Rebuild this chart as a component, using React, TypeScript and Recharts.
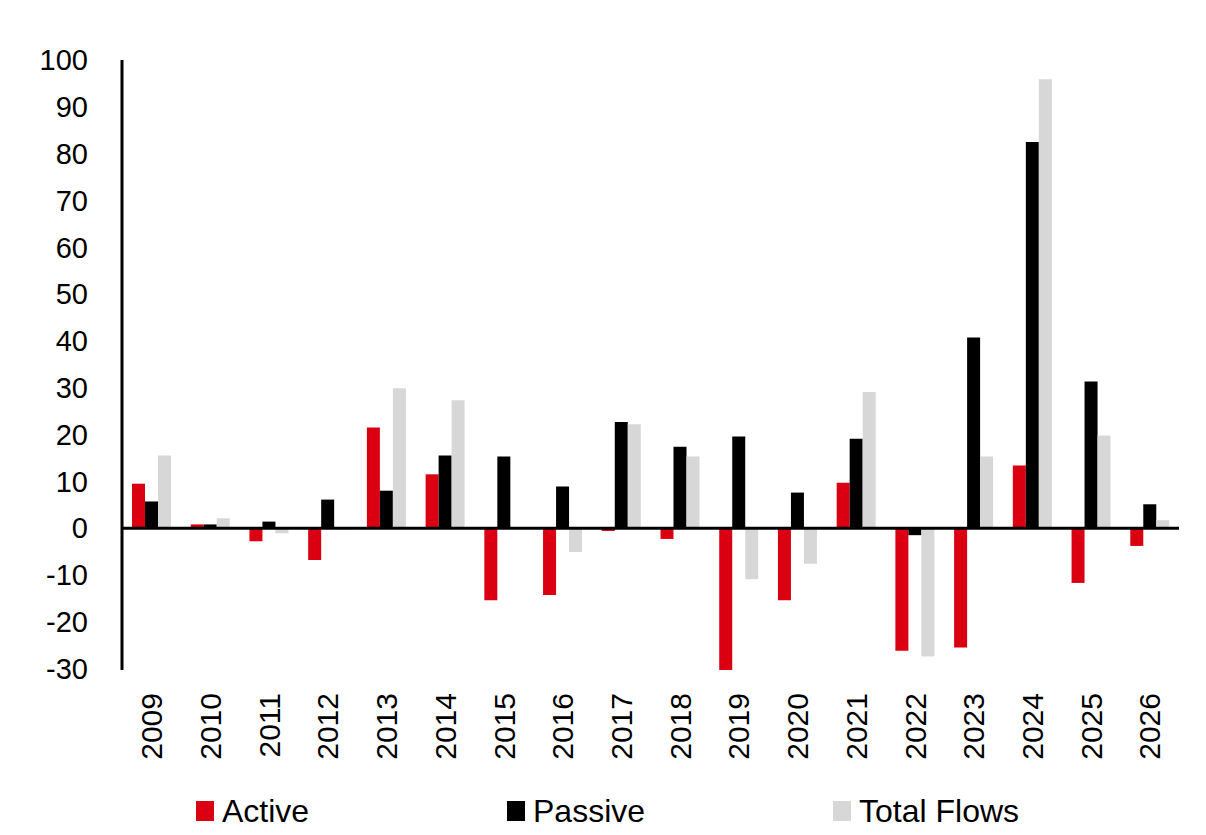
import React from "react";
import { BarChart, Bar, XAxis, YAxis, ReferenceLine } from "recharts";

const years = [
  "2009", "2010", "2011", "2012", "2013", "2014", "2015", "2016", "2017",
  "2018", "2019", "2020", "2021", "2022", "2023", "2024", "2025", "2026",
];
const active = [9.5, 0.8, -2.8, -6.8, 21.5, 11.5, -15.4, -14.3, -0.6, -2.3, -30.3, -15.4, 9.7, -26.2, -25.5, 13.4, -11.7, -3.8];
const passive = [5.7, 0.8, 1.4, 6.1, 8.0, 15.5, 15.3, 8.9, 22.7, 17.4, 19.6, 7.6, 19.1, -1.5, 40.7, 82.5, 31.3, 5.1];
const totalFlows = [15.5, 2.1, -1.1, -0.2, 29.9, 27.3, 0, -5.1, 22.2, 15.3, -10.9, -7.6, 29.1, -27.4, 15.3, 95.9, 19.8, 1.7];
const yTicks = [-30, -20, -10, 0, 10, 20, 30, 40, 50, 60, 70, 80, 90, 100];

const RED = "#DB0011";
const BLACK = "#000000";
const GREY = "#D7D7D7";
const FONT = "'Liberation Sans', Arial, sans-serif";

const data = years.map((year, i) => ({
  year,
  active: active[i],
  passive: passive[i],
  total: totalFlows[i],
}));

const YearTick = (props: any) => {
  const { x, y, payload } = props;
  return (
    <g transform={`translate(${x},${y + 23})`}>
      <text
        transform="rotate(-90)"
        x={0}
        y={0}
        dy="0.36em"
        textAnchor="end"
        fontSize={30}
        fontFamily={FONT}
        fill="#000"
      >
        {payload.value}
      </text>
    </g>
  );
};

const legendItems = [
  { label: "Active", color: RED, left: 196 },
  { label: "Passive", color: BLACK, left: 507 },
  { label: "Total Flows", color: GREY, left: 833 },
];

export default function App() {
  return (
    <div
      style={{
        position: "absolute",
        left: 0,
        top: 0,
        width: 1206,
        height: 835,
        background: "#fff",
        fontFamily: FONT,
      }}
    >
      <BarChart
        width={1206}
        height={835}
        data={data}
        margin={{ top: 60, right: 27, left: 0, bottom: 65 }}
        barGap={0}
        barSize={13}
      >
        <XAxis
          dataKey="year"
          axisLine={false}
          tickLine={false}
          tickSize={0}
          tickMargin={0}
          height={100}
          interval={0}
          tick={<YearTick />}
        />
        <YAxis
          width={122}
          domain={[-30, 100]}
          ticks={yTicks}
          interval={0}
          axisLine={{ stroke: "#000", strokeWidth: 3 }}
          tickLine={false}
          tickSize={6}
          tickMargin={28}
          tick={{ fontSize: 29, fill: "#000", fontFamily: FONT }}
        />
        <Bar dataKey="active" fill={RED} isAnimationActive={false} />
        <Bar dataKey="passive" fill={BLACK} isAnimationActive={false} />
        <Bar dataKey="total" fill={GREY} isAnimationActive={false} />
        <ReferenceLine y={0} stroke="#000" strokeWidth={3} />
      </BarChart>
      {legendItems.map((item) => (
        <div
          key={item.label}
          style={{
            position: "absolute",
            left: item.left,
            top: 793,
            display: "flex",
            alignItems: "center",
            fontSize: 32,
            color: "#000",
            lineHeight: "36px",
          }}
        >
          <span
            style={{
              display: "inline-block",
              width: 18,
              height: 20,
              background: item.color,
              marginRight: 8,
            }}
          />
          {item.label}
        </div>
      ))}
    </div>
  );
}
